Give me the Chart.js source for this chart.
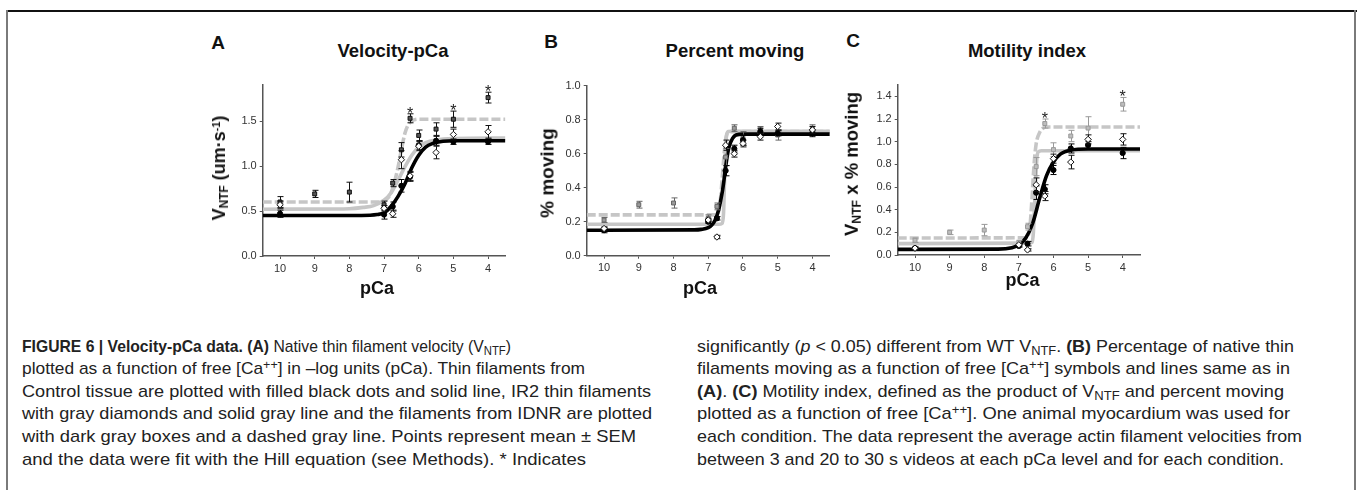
<!DOCTYPE html>
<html><head><meta charset="utf-8">
<script src="https://cdn.jsdelivr.net/npm/chart.js@4"></script>
<style>
html,body{margin:0;padding:0;background:#fff;}
body{width:1357px;height:490px;position:relative;overflow:hidden;font-family:"Liberation Sans",Arial,sans-serif;color:#111;}
.fr{position:absolute;}
canvas{position:absolute;}
.t{position:absolute;font-weight:bold;white-space:nowrap;line-height:1;color:#111;}
.yl{position:absolute;font-weight:bold;white-space:nowrap;line-height:1;color:#111;transform:translate(-50%,-50%) rotate(-90deg);}
.sb{font-size:0.66em;position:relative;top:0.28em;line-height:0;}
.sp{font-size:0.6em;position:relative;top:-0.5em;line-height:0;}
.cap{position:absolute;white-space:nowrap;font-family:"Liberation Sans Narrow","Liberation Sans",Arial,sans-serif;font-size:17px;line-height:17px;color:#222;transform-origin:0 0;}
.cap sub{font-size:0.72em;vertical-align:baseline;position:relative;top:0.3em;line-height:0;}
.cap sup{font-size:0.72em;vertical-align:baseline;position:relative;top:-0.45em;line-height:0;}
</style>
</head><body>
<div class="fr" style="left:7px;top:10px;width:1350px;height:1.5px;background:#111"></div>
<div class="fr" style="left:6px;top:10px;width:2px;height:480px;background:#7a7a7a"></div>
<div class="fr" style="left:1354px;top:10px;width:2px;height:480px;background:#7a7a7a"></div>

<canvas id="cA"></canvas>
<canvas id="cB"></canvas>
<canvas id="cC"></canvas>

<div class="t" data-cx="218" data-bl="49.5" style="font-size:19px">A</div>
<div class="t" data-cx="551" data-bl="48.3" style="font-size:19px">B</div>
<div class="t" data-cx="853" data-bl="46.7" style="font-size:19px">C</div>
<div class="t" data-cx="393" data-bl="58" style="font-size:18.5px">Velocity-pCa</div>
<div class="t" data-cx="735" data-bl="58" style="font-size:18.5px">Percent moving</div>
<div class="t" data-cx="1027" data-bl="58" style="font-size:18.5px">Motility index</div>
<div class="t" data-cx="377" data-bl="294.6" style="font-size:18px">pCa</div>
<div class="t" data-cx="700" data-bl="294" style="font-size:18px">pCa</div>
<div class="t" data-cx="1022.5" data-bl="286" style="font-size:18px">pCa</div>

<div class="yl" style="left:218.5px;top:168px;font-size:18px">V<span class="sb">NTF</span> (um·s<span class="sp">-1</span>)</div>
<div class="yl" style="left:547px;top:173px;font-size:19px">% moving</div>
<div class="yl" style="left:852px;top:164px;font-size:18.5px">V<span class="sb">NTF</span> x % moving</div>

<div class="cap" data-x="22" data-w="489" data-bl="352"><b>FIGURE 6 | Velocity-pCa data. (A)</b> Native thin filament velocity (V<sub>NTF</sub>)</div>
<div class="cap" data-x="22" data-w="563" data-bl="374.6">plotted as a function of free [Ca<sup>++</sup>] in –log units (pCa). Thin filaments from</div>
<div class="cap" data-x="22" data-w="629" data-bl="397.2">Control tissue are plotted with filled black dots and solid line, IR2 thin filaments</div>
<div class="cap" data-x="22" data-w="630" data-bl="419.8">with gray diamonds and solid gray line and the filaments from IDNR are plotted</div>
<div class="cap" data-x="22" data-w="614" data-bl="442.4">with dark gray boxes and a dashed gray line. Points represent mean ± SEM</div>
<div class="cap" data-x="22" data-w="564" data-bl="465">and the data were fit with the Hill equation (see Methods). * Indicates</div>
<div class="cap" data-x="697" data-w="597" data-bl="352">significantly (<i>p</i> &lt; 0.05) different from WT V<sub>NTF</sub>. <b>(B)</b> Percentage of native thin</div>
<div class="cap" data-x="697" data-w="593" data-bl="374.6">filaments moving as a function of free [Ca<sup>++</sup>] symbols and lines same as in</div>
<div class="cap" data-x="697" data-w="587" data-bl="397.2"><b>(A)</b>. <b>(C)</b> Motility index, defined as the product of V<sub>NTF</sub> and percent moving</div>
<div class="cap" data-x="697" data-w="593" data-bl="419.8">plotted as a function of free [Ca<sup>++</sup>]. One animal myocardium was used for</div>
<div class="cap" data-x="697" data-w="605" data-bl="442.4">each condition. The data represent the average actin filament velocities from</div>
<div class="cap" data-x="697" data-w="587" data-bl="465">between 3 and 20 to 30 s videos at each pCa level and for each condition.</div>

<script>
// ---------- data ----------
const pCa = [10, 9, 8, 7, 6.75, 6.5, 6.25, 6, 5.5, 5, 4];
const pCaTicks = [10, 9, 8, 7, 6, 5, 4];
const velTicks = [0, 0.5, 1.0, 1.5];
const pmTicks = [0, 0.2, 0.4, 0.6, 0.8, 1.0];
const miTicks = [0, 0.2, 0.4, 0.6, 0.8, 1.0, 1.2, 1.4];

// Panel A: velocity (um/s)
const velControl    = [0.47, null, null, 0.46, 0.55, 0.78, 0.88, 1.23, 1.28, 1.27, 1.27];
const velControlErr = [0.04, null, null, 0.05, 0.05, 0.07, 0.05, 0.05, 0.05, 0.03, 0.03];
const velIR2        = [0.57, null, null, 0.53, 0.47, 1.07, 0.89, 1.22, 1.15, 1.35, 1.38];
const velIR2Err     = [0.04, null, null, 0.03, 0.04, 0.10, 0.05, 0.05, 0.07, 0.06, 0.07];
const velIDNR       = [0.60, 0.69, 0.71, 0.57, 0.81, 1.18, 1.53, 1.34, 1.41, 1.52, 1.76];
const velIDNRErr    = [0.06, 0.04, 0.11, 0.04, 0.04, 0.08, 0.05, 0.06, 0.07, 0.09, 0.06];
const velSig = [6.25, 5, 4];

const fitVelControlX = [10.5, 8, 7.4, 7.2, 7.0, 6.8, 6.6, 6.4, 6.2, 6.0, 5.8, 5.6, 5.3, 5.0, 3.5];
const fitVelControlY = [0.45, 0.45, 0.453, 0.46, 0.48, 0.55, 0.66, 0.80, 0.98, 1.12, 1.21, 1.25, 1.275, 1.28, 1.28];
const fitVelIR2X = [10.5, 8.5, 8, 7.6, 7.3, 7.0, 6.8, 6.6, 6.4, 6.2, 6.0, 5.8, 5.5, 5.0, 3.5];
const fitVelIR2Y = [0.52, 0.522, 0.525, 0.54, 0.56, 0.62, 0.70, 0.84, 0.99, 1.12, 1.21, 1.26, 1.29, 1.305, 1.31];
const fitVelIDNRX = [10.5, 7.2, 7.0, 6.9, 6.8, 6.7, 6.6, 6.5, 6.4, 6.3, 6.2, 6.0, 3.5];
const fitVelIDNRY = [0.60, 0.60, 0.61, 0.64, 0.70, 0.82, 0.98, 1.18, 1.36, 1.46, 1.50, 1.52, 1.52];

// Panel B: fraction moving
const pmControl    = [0.15, null, null, 0.20, 0.22, 0.50, 0.63, 0.68, 0.73, 0.72, 0.72];
const pmControlErr = [0.015, null, null, 0.01, 0.01, 0.03, 0.02, 0.03, 0.02, 0.015, 0.02];
const pmIR2        = [0.16, null, null, 0.21, 0.11, 0.65, 0.60, 0.66, 0.70, 0.76, 0.74];
const pmIR2Err     = [0.01, null, null, 0.01, 0.01, 0.03, 0.02, 0.02, 0.02, 0.02, 0.02];
const pmIDNR       = [0.21, 0.30, 0.31, 0.22, 0.29, 0.58, 0.75, 0.69, 0.74, 0.71, 0.75];
const pmIDNRErr    = [0.015, 0.02, 0.03, 0.02, 0.02, 0.05, 0.02, 0.04, 0.02, 0.03, 0.02];

const fitPmControlX = [10.5, 7.4, 7.2, 7.0, 6.9, 6.8, 6.7, 6.6, 6.55, 6.5, 6.45, 6.4, 6.3, 6.2, 6.0, 3.5];
const fitPmControlY = [0.15, 0.152, 0.155, 0.165, 0.18, 0.21, 0.27, 0.37, 0.44, 0.52, 0.59, 0.64, 0.69, 0.71, 0.715, 0.715];
const fitPmIR2X = [10.5, 6.7, 6.6, 6.56, 6.53, 6.5, 6.47, 6.42, 6.3, 3.5];
const fitPmIR2Y = [0.185, 0.185, 0.19, 0.25, 0.45, 0.64, 0.71, 0.73, 0.732, 0.732];
const fitPmIDNRX = [10.5, 6.8, 6.7, 6.65, 6.6, 6.55, 6.5, 6.45, 6.3, 3.5];
const fitPmIDNRY = [0.24, 0.24, 0.26, 0.33, 0.45, 0.58, 0.68, 0.72, 0.73, 0.73];

// Panel C: motility index
const miControl    = [0.06, null, null, 0.08, 0.10, 0.55, 0.58, 0.75, 0.94, 0.97, 0.90];
const miControlErr = [0.01, null, null, 0.01, 0.02, 0.06, 0.04, 0.04, 0.04, 0.03, 0.05];
const miIR2        = [0.06, null, null, 0.09, 0.045, 0.62, 0.52, 0.85, 0.82, 1.02, 1.02];
const miIR2Err     = [0.01, null, null, 0.01, 0.01, 0.06, 0.04, 0.04, 0.06, 0.04, 0.05];
const miIDNR       = [0.13, 0.20, 0.22, 0.11, 0.25, 0.78, 1.16, 0.93, 1.05, 1.12, 1.33];
const miIDNRErr    = [0.02, 0.02, 0.05, 0.02, 0.03, 0.08, 0.04, 0.06, 0.05, 0.10, 0.06];
const miSig = [6.25, 4];

const fitMiControlX = [10.5, 7.6, 7.2, 7.0, 6.8, 6.6, 6.4, 6.2, 6.0, 5.8, 5.5, 5.0, 3.5];
const fitMiControlY = [0.05, 0.052, 0.065, 0.09, 0.15, 0.28, 0.50, 0.70, 0.82, 0.89, 0.925, 0.935, 0.935];
const fitMiIR2X = [10.5, 6.7, 6.62, 6.58, 6.53, 6.48, 6.44, 6.35, 3.5];
const fitMiIR2Y = [0.10, 0.105, 0.11, 0.20, 0.55, 0.85, 0.91, 0.92, 0.92];
const fitMiIDNRX = [10.5, 6.8, 6.75, 6.68, 6.62, 6.56, 6.5, 6.4, 6.3, 6.2, 3.5];
const fitMiIDNRY = [0.15, 0.152, 0.16, 0.25, 0.50, 0.80, 0.98, 1.08, 1.12, 1.13, 1.13];

// ---------- helpers ----------
function pts(xs, ys, es) {
  const out = [];
  xs.forEach((x, i) => { if (ys[i] != null) out.push({x: x, y: ys[i], e: es ? es[i] : null}); });
  return out;
}

const errPlugin = {
  id: 'errPlugin',
  beforeDatasetDraw(chart, args) {
    const ds = chart.data.datasets[args.index];
    if (!ds.errColor) return;
    const ctx = chart.ctx, ys = chart.scales.y;
    ctx.save();
    ctx.strokeStyle = ds.errColor; ctx.lineWidth = 1;
    args.meta.data.forEach((el, i) => {
      const p = ds.data[i];
      if (!p || p.e == null) return;
      const x = Math.round(el.x) + 0.5;
      const y1 = ys.getPixelForValue(p.y + p.e), y2 = ys.getPixelForValue(p.y - p.e);
      ctx.beginPath();
      ctx.moveTo(x, y1); ctx.lineTo(x, y2);
      ctx.moveTo(x - 3, y1); ctx.lineTo(x + 3, y1);
      ctx.moveTo(x - 3, y2); ctx.lineTo(x + 3, y2);
      ctx.stroke();
    });
    ctx.restore();
  },
  afterDatasetsDraw(chart) {
    const ctx = chart.ctx, xs = chart.scales.x, ys = chart.scales.y;
    chart.data.datasets.forEach(ds => {
      if (!ds.sig) return;
      ds.sig.forEach(sx => {
        const p = ds.data.find(d => d.x === sx);
        if (!p) return;
        ctx.save();
        ctx.fillStyle = '#222';
        ctx.font = '16px "Liberation Sans", Arial, sans-serif';
        ctx.textAlign = 'center';
        ctx.textBaseline = 'alphabetic';
        ctx.fillText('*', xs.getPixelForValue(sx), ys.getPixelForValue(p.y + (p.e || 0)) + 5);
        ctx.restore();
      });
    });
  }
};

function lineDs(xs, ys, color, dash) {
  return {type: 'line', data: pts(xs, ys), showLine: true, borderColor: color, borderWidth: 3.6,
    borderDash: dash || [], pointRadius: 0, cubicInterpolationMode: 'monotone', fill: false};
}
function ptDs(ys, es, style, fill, stroke, radius, errColor, sig) {
  return {type: 'line', showLine: false, data: pts(pCa, ys, es), pointStyle: style, pointRadius: radius,
    pointBackgroundColor: fill, pointBorderColor: stroke, pointBorderWidth: 1, errColor: errColor, sig: sig};
}

function makePanel(id, box, area, yMax, yTicks, datasets) {
  const cv = document.getElementById(id);
  cv.width = box.w; cv.height = box.h;
  cv.style.left = box.l + 'px'; cv.style.top = box.t + 'px';
  cv.style.width = box.w + 'px'; cv.style.height = box.h + 'px';
  const tickFont = {family: '"Liberation Sans", Arial, sans-serif', size: 11};
  const axisCommon = {
    border: {display: true, color: '#555', width: 1.5},
    grid: {display: true, drawOnChartArea: false, drawTicks: true, tickLength: 3, color: '#555', lineWidth: 1},
  };
  return new Chart(cv, {
    type: 'scatter',
    data: {datasets: datasets},
    options: {
      responsive: false, animation: false, events: [],
      layout: {padding: {left: 0, top: area.t - box.t, right: box.l + box.w - area.r, bottom: 0}},
      plugins: {legend: {display: false}, tooltip: {enabled: false}, title: {display: false}},
      elements: {line: {tension: 0}},
      scales: {
        x: Object.assign({}, axisCommon, {
          type: 'linear', reverse: true, min: 3.5, max: 10.5,
          afterBuildTicks: s => { s.ticks = pCaTicks.map(v => ({value: v})); },
          afterFit: s => { s.height = box.t + box.h - area.b; },
          ticks: {font: tickFont, color: '#333', padding: 3, maxRotation: 0, callback: v => String(v)}
        }),
        y: Object.assign({}, axisCommon, {
          type: 'linear', min: 0, max: yMax,
          afterBuildTicks: s => { s.ticks = yTicks.map(v => ({value: v})); },
          afterFit: s => { s.width = area.l - box.l; },
          ticks: {font: tickFont, color: '#333', padding: 3, callback: v => Number(v).toFixed(1)}
        })
      }
    },
    plugins: [errPlugin]
  });
}

const GRAY = '#c6c6c6';

makePanel('cA', {l: 225, t: 65, w: 295, h: 230}, {l: 262.7, t: 85, r: 505.4, b: 256}, 1.9, velTicks, [
  ptDs(velIR2, velIR2Err, 'rectRot', '#fff', '#111', 3.2, '#111'),
  ptDs(velControl, velControlErr, 'circle', '#000', '#000', 2.6, '#000'),
  ptDs(velIDNR, velIDNRErr, 'rect', '#555', '#111', 2.8, '#111', velSig),
  lineDs(fitVelControlX, fitVelControlY, '#000'),
  lineDs(fitVelIR2X, fitVelIR2Y, GRAY),
  lineDs(fitVelIDNRX, fitVelIDNRY, GRAY, [9, 3])
]);

makePanel('cB', {l: 550, t: 65, w: 295, h: 230}, {l: 586.7, t: 85.7, r: 829.8, b: 255.7}, 1.0, pmTicks, [
  ptDs(pmIR2, pmIR2Err, 'rectRot', '#fff', '#111', 3.2, '#111'),
  ptDs(pmControl, pmControlErr, 'circle', '#000', '#000', 2.6, '#000'),
  ptDs(pmIDNR, pmIDNRErr, 'rect', '#9a9a9a', '#666', 2.8, '#666'),
  lineDs(fitPmControlX, fitPmControlY, '#000'),
  lineDs(fitPmIR2X, fitPmIR2Y, GRAY),
  lineDs(fitPmIDNRX, fitPmIDNRY, GRAY, [9, 3])
]);

makePanel('cC', {l: 862, t: 65, w: 295, h: 230}, {l: 897.7, t: 85, r: 1140, b: 255}, 1.5, miTicks, [
  ptDs(miIR2, miIR2Err, 'rectRot', '#fff', '#111', 3.2, '#111'),
  ptDs(miControl, miControlErr, 'circle', '#000', '#000', 2.6, '#000'),
  ptDs(miIDNR, miIDNRErr, 'rect', '#bdbdbd', '#999', 2.8, '#999', miSig),
  lineDs(fitMiControlX, fitMiControlY, '#000'),
  lineDs(fitMiIR2X, fitMiIR2Y, GRAY),
  lineDs(fitMiIDNRX, fitMiIDNRY, GRAY, [9, 3])
]);

// ---------- text placement ----------
document.querySelectorAll('.t').forEach(el => {
  const fs = parseFloat(el.style.fontSize);
  const w = el.getBoundingClientRect().width;
  el.style.left = (parseFloat(el.dataset.cx) - w / 2) + 'px';
  el.style.top = (parseFloat(el.dataset.bl) - 0.8465 * fs) + 'px';
});
document.querySelectorAll('.cap').forEach(el => {
  el.style.left = el.dataset.x + 'px';
  el.style.top = (parseFloat(el.dataset.bl) - 0.8465 * 17) + 'px';
  const w = el.getBoundingClientRect().width;
  el.style.transform = 'scaleX(' + (parseFloat(el.dataset.w) / w) + ')';
});
</script>
</body></html>
